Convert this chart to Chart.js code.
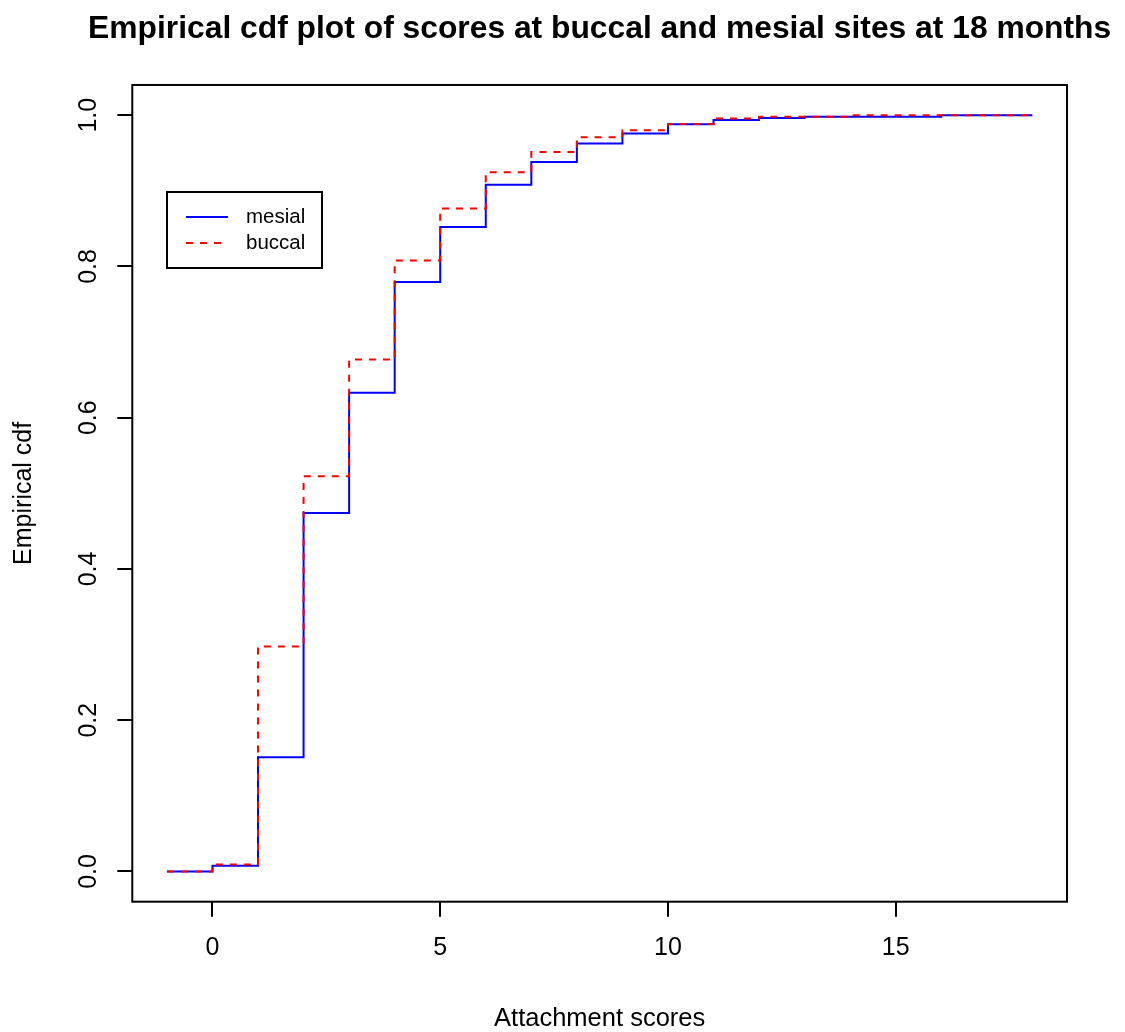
<!DOCTYPE html>
<html>
<head>
<meta charset="utf-8">
<title>Empirical cdf plot</title>
<script src="https://cdn.jsdelivr.net/npm/chart.js@4.4.1/dist/chart.umd.min.js"></script>
<style>
  html, body { margin: 0; padding: 0; background: #ffffff; }
  #wrap { width: 1125px; height: 1032px; }
</style>
</head>
<body>
<div id="wrap"><canvas id="cdf" width="1125" height="1032"></canvas></div>
<script>
// Attachment scores (step positions) and empirical cdf at each score
const scores = [-1, 0, 1, 2, 3, 4, 5, 6, 7, 8, 9, 10, 11, 12, 13, 14, 15, 16, 17, 18];
const mesialCdf = [0, 0.0075, 0.151, 0.474, 0.633, 0.7795, 0.8522, 0.908, 0.938, 0.9626,
                   0.9758, 0.988, 0.9938, 0.9964, 0.9978, 0.9978, 0.9978, 1.0, 1.0, 1.0];
const buccalCdf = [0, 0.0093, 0.2976, 0.5225, 0.677, 0.808, 0.8766, 0.9246, 0.9514, 0.971,
                   0.980, 0.9885, 0.9956, 0.9978, 0.9978, 1.0, 1.0, 1.0, 1.0, 1.0];
const seriesNames = ['mesial', 'buccal'];
const xTicks = [0, 5, 10, 15];
const yTicks = [0, 0.2, 0.4, 0.6, 0.8, 1.0];

const FONT = '"Liberation Sans", Arial, Helvetica, sans-serif';
Chart.defaults.font.family = FONT;
Chart.defaults.color = '#000000';

const toPoints = ys => scores.map((x, i) => ({ x: x, y: ys[i] }));

// Let the title (centred over the plot) use the full canvas width so it is not squeezed
const wideTitle = {
  id: 'wideTitle',
  afterLayout(chart) {
    const t = chart.titleBlock;
    if (!t) return;
    const centre = (t.left + t.right) / 2;
    const half = Math.min(centre, chart.width - centre);
    t.left = centre - half;
    t.right = centre + half;
    t.width = t.right - t.left;
  }
};

// Black frame around the plotting region
const frame = {
  id: 'frame',
  afterDatasetsDraw(chart) {
    const { ctx, chartArea: a } = chart;
    ctx.save();
    ctx.strokeStyle = '#000000';
    ctx.lineWidth = 2;
    ctx.strokeRect(a.left, a.top, a.right - a.left, a.bottom - a.top);
    ctx.restore();
  }
};

// Boxed key in the upper-left of the plot, built from the datasets
const boxedKey = {
  id: 'boxedKey',
  afterDraw(chart) {
    const { ctx } = chart;
    const box = { x: 167, y: 192, w: 155, h: 76 };
    ctx.save();
    ctx.fillStyle = '#ffffff';
    ctx.fillRect(box.x, box.y, box.w, box.h);
    ctx.strokeStyle = '#000000';
    ctx.lineWidth = 2;
    ctx.strokeRect(box.x, box.y, box.w, box.h);
    ctx.font = '20.5px ' + FONT;
    ctx.textBaseline = 'middle';
    ctx.textAlign = 'left';
    chart.data.datasets.forEach((ds, i) => {
      const yy = 217 + i * 26;
      ctx.strokeStyle = ds.borderColor;
      ctx.lineWidth = 2;
      ctx.setLineDash(ds.borderDash || []);
      ctx.beginPath();
      ctx.moveTo(186, yy);
      ctx.lineTo(228, yy);
      ctx.stroke();
      ctx.setLineDash([]);
      ctx.fillStyle = '#000000';
      ctx.fillText(ds.label, 246, yy);
    });
    ctx.restore();
  }
};

new Chart(document.getElementById('cdf'), {
  type: 'scatter',
  data: {
    datasets: [
      {
        label: seriesNames[0],
        data: toPoints(mesialCdf),
        showLine: true,
        stepped: 'before',
        borderColor: '#0000ff',
        backgroundColor: '#0000ff',
        borderWidth: 2,
        pointRadius: 0,
        fill: false,
        order: 2
      },
      {
        label: seriesNames[1],
        data: toPoints(buccalCdf),
        showLine: true,
        stepped: 'before',
        borderColor: '#ff0000',
        backgroundColor: '#ff0000',
        borderWidth: 2,
        borderDash: [7, 7],
        pointRadius: 0,
        fill: false,
        order: 1
      }
    ]
  },
  options: {
    responsive: false,
    animation: false,
    events: [],
    layout: { padding: { left: 0, right: 58, top: 0, bottom: 0 } },
    plugins: {
      legend: { display: false },
      tooltip: { enabled: false },
      title: {
        display: true,
        fullSize: false,
        text: 'Empirical cdf plot of scores at buccal and mesial sites at 18 months',
        color: '#000000',
        font: { size: 31.8, weight: 'bold', family: FONT, lineHeight: 1.2 },
        padding: { top: 10, bottom: 36.8 }
      }
    },
    scales: {
      x: {
        type: 'linear',
        min: -1.76,
        max: 18.76,
        afterBuildTicks: s => { s.ticks = xTicks.map(v => ({ value: v })); },
        afterFit: s => { s.height = 130.3; },
        border: { display: false },
        grid: { drawOnChartArea: false, drawTicks: true, tickLength: 15, color: '#000000', lineWidth: 2 },
        ticks: {
          autoSkip: false,
          maxRotation: 0,
          padding: 16,
          color: '#000000',
          font: { size: 25, family: FONT, lineHeight: 1.2 },
          callback: v => String(v)
        },
        title: {
          display: true,
          text: 'Attachment scores',
          color: '#000000',
          font: { size: 25.5, family: FONT, lineHeight: 1.2 },
          padding: { top: 0, bottom: -2 }
        }
      },
      y: {
        type: 'linear',
        min: -0.04,
        max: 1.04,
        afterBuildTicks: s => { s.ticks = yTicks.map(v => ({ value: v })); },
        afterFit: s => { s.width = 132.3; },
        border: { display: false },
        grid: { drawOnChartArea: false, drawTicks: true, tickLength: 15, color: '#000000', lineWidth: 2 },
        ticks: {
          autoSkip: false,
          minRotation: 90,
          maxRotation: 90,
          crossAlign: 'center',
          padding: 11,
          color: '#000000',
          font: { size: 25, family: FONT, lineHeight: 1.2 },
          callback: v => Number(v).toFixed(1)
        },
        title: {
          display: true,
          text: 'Empirical cdf',
          color: '#000000',
          font: { size: 25, family: FONT, lineHeight: 1.2 },
          padding: { top: 9.3, bottom: 0 }
        }
      }
    }
  },
  plugins: [wideTitle, frame, boxedKey]
});
</script>
</body>
</html>
